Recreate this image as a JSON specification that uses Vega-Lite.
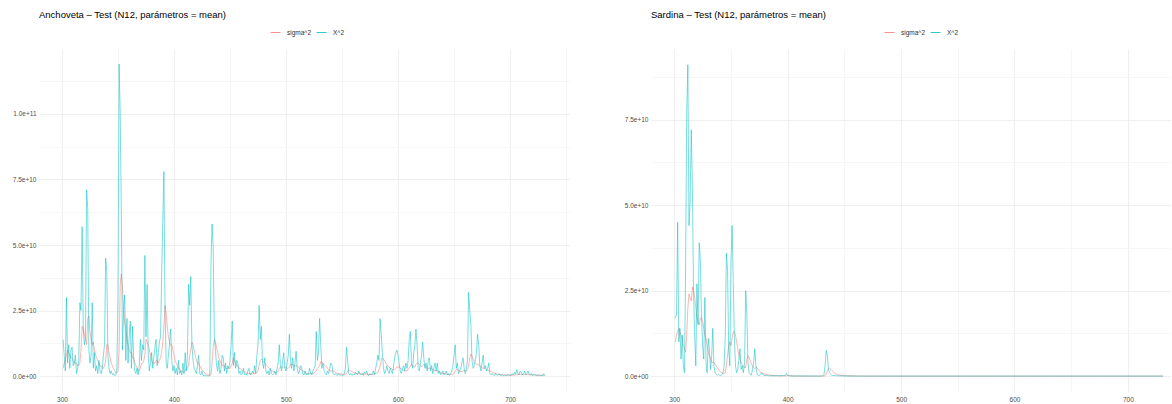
{
"$schema":"https://vega.github.io/schema/vega-lite/v6.json",
"padding":{"left":12,"top":9,"right":0,"bottom":0},
"background":"white",
"config":{
"view":{"stroke":null},
"font":"Liberation Sans",
"axis":{"domain":false,"ticks":false,"labelFont":"Liberation Sans","labelFontSize":6.5,"labelColor":"#4D4D4D","labelPadding":3,"title":null,"labelOverlap":false,"labelFlush":false,"gridWidth":0.8},
"title":{"fontSize":9.5,"fontWeight":"normal","color":"#000000","anchor":"start","frame":"group","offset":8,"font":"Liberation Sans"},
"legend":{"labelFont":"Liberation Sans","labelFontSize":6.5,"labelColor":"#333333","symbolType":"stroke","symbolSize":100,"symbolStrokeWidth":1,"symbolOpacity":0.8,"columnPadding":2,"labelOffset":6}
},
"spacing":54,
"resolve":{"scale":{"x":"independent","y":"independent","color":"independent"},"legend":{"color":"independent"}},
"datasets":{
"anch":[
{"d":301,"s":3e9,"x":14e9},{"d":302,"s":5e9,"x":8e9},{"d":303,"s":6e9,"x":2e9},{"d":304,"s":8e9,"x":30e9},{"d":305,"s":10e9,"x":5e9},{"d":306,"s":9e9,"x":12e9},{"d":307,"s":8e9,"x":3e9},{"d":308,"s":7e9,"x":10e9},{"d":309,"s":7e9,"x":11e9},{"d":310,"s":6e9,"x":4e9},
{"d":311,"s":5e9,"x":5e9},{"d":312,"s":5e9,"x":8e9},{"d":313,"s":5e9,"x":1e9},{"d":314,"s":4e9,"x":3e9},{"d":315,"s":4e9,"x":6e9},{"d":316,"s":5e9,"x":28e9},{"d":317,"s":10e9,"x":25e9},{"d":318,"s":19e9,"x":57e9},{"d":319,"s":18e9,"x":18e9},{"d":320,"s":16e9,"x":12e9},
{"d":321,"s":14e9,"x":15e9},{"d":322,"s":12e9,"x":71e9},{"d":323,"s":22e9,"x":64e9},{"d":324,"s":23e9,"x":10e9},{"d":325,"s":17e9,"x":5e9},{"d":326,"s":14e9,"x":8e9},{"d":327,"s":12e9,"x":28e9},{"d":328,"s":13e9,"x":3e9},{"d":329,"s":10e9,"x":9e9},{"d":330,"s":8e9,"x":2e9},
{"d":331,"s":7e9,"x":4e9},{"d":332,"s":6e9,"x":1e9},{"d":333,"s":5e9,"x":6e9},{"d":334,"s":4e9,"x":2e9},{"d":335,"s":4e9,"x":1e9},{"d":336,"s":3e9,"x":3e9},{"d":337,"s":3e9,"x":8e9},{"d":338,"s":4e9,"x":12e9},{"d":339,"s":6e9,"x":45e9},{"d":340,"s":12e9,"x":40e9},
{"d":341,"s":12e9,"x":8e9},{"d":342,"s":9e9,"x":3e9},{"d":343,"s":7e9,"x":1e9},{"d":344,"s":5e9,"x":2e9},{"d":345,"s":4e9,"x":0.5e9},{"d":346,"s":3e9,"x":1e9},{"d":347,"s":2e9,"x":0.3e9},{"d":348,"s":1.5e9,"x":0.5e9},{"d":349,"s":1.2e9,"x":3e9},{"d":350,"s":2e9,"x":30e9},
{"d":351,"s":10e9,"x":119e9},{"d":352,"s":35e9,"x":100e9},{"d":353,"s":39e9,"x":62e9},{"d":354,"s":34e9,"x":10e9},{"d":355,"s":26e9,"x":25e9},{"d":356,"s":20e9,"x":31e9},{"d":357,"s":18e9,"x":6e9},{"d":358,"s":14e9,"x":22e9},{"d":359,"s":12e9,"x":5e9},{"d":360,"s":10e9,"x":15e9},
{"d":361,"s":9e9,"x":21e9},{"d":362,"s":9e9,"x":3e9},{"d":363,"s":7e9,"x":19e9},{"d":364,"s":7e9,"x":7e9},{"d":365,"s":5e9,"x":2e9},{"d":366,"s":4e9,"x":1e9},{"d":367,"s":3e9,"x":3e9},{"d":368,"s":2e9,"x":0.5e9},{"d":369,"s":2e9,"x":4e9},{"d":370,"s":3e9,"x":14e9},
{"d":371,"s":5e9,"x":6e9},{"d":372,"s":5e9,"x":12e9},{"d":373,"s":6e9,"x":10e9},{"d":374,"s":8e9,"x":46e9},{"d":375,"s":14e9,"x":15e9},{"d":376,"s":13e9,"x":35e9},{"d":377,"s":12e9,"x":8e9},{"d":378,"s":10e9,"x":2e9},{"d":379,"s":8e9,"x":5e9},{"d":380,"s":6e9,"x":9e9},
{"d":381,"s":5e9,"x":3e9},{"d":382,"s":5e9,"x":7e9},{"d":383,"s":5e9,"x":11e9},{"d":384,"s":6e9,"x":14e9},{"d":385,"s":6e9,"x":4e9},{"d":386,"s":5e9,"x":9e9},{"d":387,"s":6e9,"x":13e9},{"d":388,"s":7e9,"x":15e9},{"d":389,"s":9e9,"x":39e9},{"d":390,"s":13e9,"x":59e9},
{"d":391,"s":19e9,"x":78e9},{"d":392,"s":27e9,"x":26e9},{"d":393,"s":24e9,"x":5e9},{"d":394,"s":19e9,"x":3e9},{"d":395,"s":15e9,"x":8e9},{"d":396,"s":13e9,"x":12e9},{"d":397,"s":12e9,"x":18e9},{"d":398,"s":12e9,"x":6e9},{"d":399,"s":10e9,"x":2e9},{"d":400,"s":8e9,"x":4e9},
{"d":401,"s":6e9,"x":1e9},{"d":402,"s":5e9,"x":3e9},{"d":403,"s":4e9,"x":0.5e9},{"d":404,"s":3e9,"x":6e9},{"d":405,"s":3e9,"x":1e9},{"d":406,"s":2e9,"x":2e9},{"d":407,"s":2e9,"x":0.5e9},{"d":408,"s":1.5e9,"x":5e9},{"d":409,"s":1.5e9,"x":1e9},{"d":410,"s":2e9,"x":9e9},
{"d":411,"s":3e9,"x":2e9},{"d":412,"s":3e9,"x":8e9},{"d":413,"s":4e9,"x":35e9},{"d":414,"s":8e9,"x":27e9},{"d":415,"s":10e9,"x":38e9},{"d":416,"s":13e9,"x":12e9},{"d":417,"s":12e9,"x":6e9},{"d":418,"s":10e9,"x":3e9},{"d":419,"s":8e9,"x":2e9},{"d":420,"s":6e9,"x":1e9},
{"d":421,"s":5e9,"x":4e9},{"d":422,"s":5e9,"x":8e9},{"d":423,"s":4e9,"x":1e9},{"d":424,"s":3e9,"x":0.5e9},{"d":425,"s":2.5e9,"x":2e9},{"d":426,"s":2e9,"x":0.3e9},{"d":427,"s":1.5e9,"x":0.2e9},{"d":428,"s":1e9,"x":0.3e9},{"d":429,"s":0.8e9,"x":0.1e9},{"d":430,"s":0.6e9,"x":0.2e9},
{"d":431,"s":0.5e9,"x":0.1e9},{"d":432,"s":0.4e9,"x":0.3e9},{"d":433,"s":0.5e9,"x":43e9},{"d":434,"s":5e9,"x":58e9},{"d":435,"s":11e9,"x":49e9},{"d":436,"s":14e9,"x":16e9},{"d":437,"s":13e9,"x":10e9},{"d":438,"s":11e9,"x":4e9},{"d":439,"s":9e9,"x":2e9},{"d":440,"s":7e9,"x":6e9},
{"d":441,"s":6e9,"x":1e9},{"d":442,"s":5e9,"x":3e9},{"d":443,"s":4e9,"x":8e9},{"d":444,"s":4e9,"x":7e9},{"d":445,"s":4e9,"x":2e9},{"d":446,"s":3e9,"x":5e9},{"d":447,"s":3e9,"x":1e9},{"d":448,"s":3e9,"x":4e9},{"d":449,"s":3e9,"x":3e9},{"d":450,"s":3e9,"x":6e9},
{"d":451,"s":4e9,"x":12e9},{"d":452,"s":5e9,"x":21e9},{"d":453,"s":7e9,"x":4e9},{"d":454,"s":6e9,"x":9e9},{"d":455,"s":5e9,"x":3e9},{"d":456,"s":4e9,"x":6e9},{"d":457,"s":4e9,"x":5e9},{"d":458,"s":3e9,"x":1e9},{"d":459,"s":3e9,"x":2e9},{"d":460,"s":2.5e9,"x":0.5e9},
{"d":461,"s":2e9,"x":1e9},{"d":462,"s":2e9,"x":3e9},{"d":463,"s":1.5e9,"x":0.5e9},{"d":464,"s":1.5e9,"x":1e9},{"d":465,"s":1.2e9,"x":0.3e9},{"d":466,"s":1e9,"x":2e9},{"d":467,"s":1e9,"x":3e9},{"d":468,"s":1e9,"x":0.5e9},{"d":469,"s":0.9e9,"x":1e9},{"d":470,"s":0.9e9,"x":2e9},
{"d":471,"s":1e9,"x":1e9},{"d":472,"s":1e9,"x":4e9},{"d":473,"s":1.2e9,"x":1e9},{"d":474,"s":1.5e9,"x":8e9},{"d":475,"s":2e9,"x":12e9},{"d":476,"s":4e9,"x":27e9},{"d":477,"s":6e9,"x":14e9},{"d":478,"s":6.5e9,"x":19e9},{"d":479,"s":6e9,"x":5e9},{"d":480,"s":5.5e9,"x":3e9},
{"d":481,"s":5e9,"x":7e9},{"d":482,"s":4.5e9,"x":2e9},{"d":483,"s":4e9,"x":1e9},{"d":484,"s":3.5e9,"x":2e9},{"d":485,"s":3e9,"x":0.5e9},{"d":486,"s":2.5e9,"x":3e9},{"d":487,"s":2e9,"x":1e9},{"d":488,"s":2e9,"x":0.5e9},{"d":489,"s":1.8e9,"x":1e9},{"d":490,"s":1.5e9,"x":2e9},
{"d":491,"s":1.4e9,"x":0.5e9},{"d":492,"s":1.5e9,"x":3e9},{"d":493,"s":2e9,"x":5e9},{"d":494,"s":3e9,"x":12e9},{"d":495,"s":3.5e9,"x":4e9},{"d":496,"s":3.5e9,"x":2e9},{"d":497,"s":3.5e9,"x":6e9},{"d":498,"s":3.5e9,"x":9e9},{"d":499,"s":3.5e9,"x":3e9},{"d":500,"s":3.2e9,"x":2e9},
{"d":501,"s":3e9,"x":5e9},{"d":502,"s":3e9,"x":8e9},{"d":503,"s":3.5e9,"x":16e9},{"d":504,"s":4.5e9,"x":6e9},{"d":505,"s":4.5e9,"x":3e9},{"d":506,"s":4.5e9,"x":7e9},{"d":507,"s":4e9,"x":2e9},{"d":508,"s":4e9,"x":5e9},{"d":509,"s":4e9,"x":9.5e9},{"d":510,"s":4e9,"x":3e9},
{"d":511,"s":3.5e9,"x":1e9},{"d":512,"s":3e9,"x":2e9},{"d":513,"s":2.5e9,"x":4e9},{"d":514,"s":2.2e9,"x":3e9},{"d":515,"s":2e9,"x":1e9},{"d":516,"s":1.8e9,"x":0.5e9},{"d":517,"s":1.5e9,"x":2e9},{"d":518,"s":1.2e9,"x":0.5e9},{"d":519,"s":1e9,"x":1e9},{"d":520,"s":1e9,"x":0.5e9},
{"d":521,"s":0.9e9,"x":3e9},{"d":522,"s":1e9,"x":1e9},{"d":523,"s":1e9,"x":0.5e9},{"d":524,"s":1e9,"x":2e9},{"d":525,"s":1.2e9,"x":3e9},{"d":526,"s":1.5e9,"x":4e9},{"d":527,"s":2e9,"x":17e9},{"d":528,"s":3e9,"x":6e9},{"d":529,"s":3.5e9,"x":9e9},{"d":530,"s":4e9,"x":22e9},
{"d":531,"s":5.5e9,"x":12e9},{"d":532,"s":5.5e9,"x":3e9},{"d":533,"s":5e9,"x":5e9},{"d":534,"s":4.5e9,"x":2e9},{"d":535,"s":4e9,"x":1e9},{"d":536,"s":3.5e9,"x":0.5e9},{"d":537,"s":3e9,"x":2e9},{"d":538,"s":2.5e9,"x":1e9},{"d":539,"s":2e9,"x":3e9},{"d":540,"s":2e9,"x":5e9},
{"d":541,"s":2e9,"x":4e9},{"d":542,"s":2e9,"x":1e9},{"d":543,"s":1.8e9,"x":0.5e9},{"d":544,"s":1.5e9,"x":1e9},{"d":545,"s":1.2e9,"x":0.5e9},{"d":546,"s":1e9,"x":0.3e9},{"d":547,"s":1e9,"x":1e9},{"d":548,"s":0.9e9,"x":0.5e9},{"d":549,"s":0.8e9,"x":0.3e9},{"d":550,"s":0.8e9,"x":0.5e9},
{"d":551,"s":0.7e9,"x":0.3e9},{"d":552,"s":0.7e9,"x":1e9},{"d":553,"s":0.8e9,"x":3e9},{"d":554,"s":1e9,"x":11e9},{"d":555,"s":2e9,"x":6e9},{"d":556,"s":2.5e9,"x":1e9},{"d":557,"s":2.2e9,"x":0.5e9},{"d":558,"s":2e9,"x":1e9},{"d":559,"s":1.8e9,"x":0.3e9},{"d":560,"s":1.5e9,"x":1e9},
{"d":561,"s":1.3e9,"x":0.5e9},{"d":562,"s":1.2e9,"x":1.5e9},{"d":563,"s":1e9,"x":1e9},{"d":564,"s":1e9,"x":0.5e9},{"d":565,"s":1e9,"x":2e9},{"d":566,"s":1e9,"x":1e9},{"d":567,"s":0.9e9,"x":0.5e9},{"d":568,"s":0.9e9,"x":1e9},{"d":569,"s":0.8e9,"x":0.3e9},{"d":570,"s":0.8e9,"x":1.5e9},
{"d":571,"s":0.8e9,"x":1e9},{"d":572,"s":0.8e9,"x":2e9},{"d":573,"s":0.8e9,"x":0.5e9},{"d":574,"s":0.7e9,"x":0.3e9},{"d":575,"s":0.7e9,"x":1e9},{"d":576,"s":0.7e9,"x":0.5e9},{"d":577,"s":0.7e9,"x":1e9},{"d":578,"s":0.8e9,"x":2e9},{"d":579,"s":1e9,"x":0.5e9},{"d":580,"s":1e9,"x":3e9},
{"d":581,"s":1.2e9,"x":5e9},{"d":582,"s":1.5e9,"x":8e9},{"d":583,"s":2.5e9,"x":6e9},{"d":584,"s":4e9,"x":22e9},{"d":585,"s":6e9,"x":16e9},{"d":586,"s":7e9,"x":9e9},{"d":587,"s":6.5e9,"x":3e9},{"d":588,"s":6e9,"x":1e9},{"d":589,"s":5e9,"x":2e9},{"d":590,"s":4.5e9,"x":4e9},
{"d":591,"s":4e9,"x":2e9},{"d":592,"s":3.5e9,"x":1e9},{"d":593,"s":3e9,"x":3e9},{"d":594,"s":3e9,"x":2e9},{"d":595,"s":2.5e9,"x":1e9},{"d":596,"s":2.5e9,"x":4e9},{"d":597,"s":2.5e9,"x":7e9},{"d":598,"s":3e9,"x":9e9},{"d":599,"s":3.5e9,"x":10e9},{"d":600,"s":3.5e9,"x":8e9},
{"d":601,"s":3.5e9,"x":5e9},{"d":602,"s":3e9,"x":2e9},{"d":603,"s":2.8e9,"x":1e9},{"d":604,"s":2.5e9,"x":3e9},{"d":605,"s":2.2e9,"x":4e9},{"d":606,"s":2e9,"x":2e9},{"d":607,"s":2e9,"x":5e9},{"d":608,"s":2.2e9,"x":3e9},{"d":609,"s":2.5e9,"x":6e9},{"d":610,"s":3e9,"x":14e9},
{"d":611,"s":4e9,"x":17e9},{"d":612,"s":4.5e9,"x":5e9},{"d":613,"s":4e9,"x":3e9},{"d":614,"s":3.5e9,"x":9e9},{"d":615,"s":3.5e9,"x":12e9},{"d":616,"s":4.5e9,"x":18e9},{"d":617,"s":5e9,"x":12e9},{"d":618,"s":5e9,"x":3e9},{"d":619,"s":4.5e9,"x":2e9},{"d":620,"s":4e9,"x":5e9},
{"d":621,"s":3.5e9,"x":8e9},{"d":622,"s":4e9,"x":13e9},{"d":623,"s":4.5e9,"x":7e9},{"d":624,"s":4e9,"x":3e9},{"d":625,"s":3.5e9,"x":5e9},{"d":626,"s":3e9,"x":2e9},{"d":627,"s":3e9,"x":6e9},{"d":628,"s":3e9,"x":7e9},{"d":629,"s":3e9,"x":2e9},{"d":630,"s":2.8e9,"x":4e9},
{"d":631,"s":2.5e9,"x":1e9},{"d":632,"s":2.3e9,"x":3e9},{"d":633,"s":2e9,"x":5e9},{"d":634,"s":2e9,"x":2e9},{"d":635,"s":2e9,"x":5e9},{"d":636,"s":1.8e9,"x":1e9},{"d":637,"s":1.5e9,"x":2e9},{"d":638,"s":1.3e9,"x":0.5e9},{"d":639,"s":1.2e9,"x":1e9},{"d":640,"s":1e9,"x":2e9},
{"d":641,"s":1e9,"x":0.5e9},{"d":642,"s":0.9e9,"x":1e9},{"d":643,"s":0.8e9,"x":2e9},{"d":644,"s":0.8e9,"x":0.5e9},{"d":645,"s":0.7e9,"x":1e9},{"d":646,"s":0.7e9,"x":0.3e9},{"d":647,"s":0.7e9,"x":1e9},{"d":648,"s":0.7e9,"x":2e9},{"d":649,"s":0.8e9,"x":4e9},{"d":650,"s":1e9,"x":8e9},
{"d":651,"s":2e9,"x":12e9},{"d":652,"s":2.5e9,"x":3e9},{"d":653,"s":2.5e9,"x":5e9},{"d":654,"s":2.2e9,"x":1e9},{"d":655,"s":2e9,"x":2e9},{"d":656,"s":1.8e9,"x":3e9},{"d":657,"s":1.8e9,"x":5e9},{"d":658,"s":2e9,"x":7e9},{"d":659,"s":2.2e9,"x":3e9},{"d":660,"s":2e9,"x":1e9},
{"d":661,"s":2e9,"x":3e9},{"d":662,"s":2.5e9,"x":6e9},{"d":663,"s":4e9,"x":32e9},{"d":664,"s":7e9,"x":25e9},{"d":665,"s":8.5e9,"x":20e9},{"d":666,"s":7.5e9,"x":6e9},{"d":667,"s":6.5e9,"x":3e9},{"d":668,"s":5.5e9,"x":4e9},{"d":669,"s":5e9,"x":6e9},{"d":670,"s":4.5e9,"x":9e9},
{"d":671,"s":4.5e9,"x":16e9},{"d":672,"s":4.5e9,"x":12e9},{"d":673,"s":4e9,"x":4e9},{"d":674,"s":3.5e9,"x":2e9},{"d":675,"s":3.2e9,"x":5e9},{"d":676,"s":3e9,"x":8e9},{"d":677,"s":3e9,"x":3e9},{"d":678,"s":2.8e9,"x":4e9},{"d":679,"s":2.5e9,"x":2e9},{"d":680,"s":2.3e9,"x":3e9},
{"d":681,"s":2.2e9,"x":5e9},{"d":682,"s":2e9,"x":1e9},{"d":683,"s":1.8e9,"x":0.5e9},{"d":684,"s":1.5e9,"x":1e9},{"d":685,"s":1.3e9,"x":0.5e9},{"d":686,"s":1.1e9,"x":0.3e9},{"d":687,"s":1e9,"x":1e9},{"d":688,"s":0.9e9,"x":0.5e9},{"d":689,"s":0.8e9,"x":0.3e9},{"d":690,"s":0.7e9,"x":1e9},
{"d":691,"s":0.6e9,"x":0.5e9},{"d":692,"s":0.6e9,"x":0.3e9},{"d":693,"s":0.5e9,"x":0.5e9},{"d":694,"s":0.5e9,"x":0.2e9},{"d":695,"s":0.5e9,"x":0.3e9},{"d":696,"s":0.4e9,"x":0.5e9},{"d":697,"s":0.4e9,"x":0.2e9},{"d":698,"s":0.4e9,"x":0.8e9},{"d":699,"s":0.4e9,"x":0.3e9},{"d":700,"s":0.4e9,"x":0.5e9},
{"d":701,"s":0.4e9,"x":0.3e9},{"d":702,"s":0.4e9,"x":1e9},{"d":703,"s":0.4e9,"x":0.5e9},{"d":704,"s":0.5e9,"x":1.5e9},{"d":705,"s":0.5e9,"x":0.8e9},{"d":706,"s":0.6e9,"x":2.5e9},{"d":707,"s":0.7e9,"x":1e9},{"d":708,"s":0.7e9,"x":0.5e9},{"d":709,"s":0.7e9,"x":2e9},{"d":710,"s":0.7e9,"x":1.5e9},
{"d":711,"s":0.7e9,"x":0.5e9},{"d":712,"s":0.6e9,"x":1e9},{"d":713,"s":0.6e9,"x":2e9},{"d":714,"s":0.6e9,"x":0.5e9},{"d":715,"s":0.6e9,"x":1e9},{"d":716,"s":0.6e9,"x":2e9},{"d":717,"s":0.6e9,"x":0.8e9},{"d":718,"s":0.5e9,"x":0.5e9},{"d":719,"s":0.5e9,"x":1e9},{"d":720,"s":0.5e9,"x":0.3e9},
{"d":721,"s":0.5e9,"x":0.5e9},{"d":722,"s":0.4e9,"x":0.8e9},{"d":723,"s":0.4e9,"x":0.3e9},{"d":724,"s":0.4e9,"x":0.5e9},{"d":725,"s":0.4e9,"x":0.3e9},{"d":726,"s":0.4e9,"x":0.5e9},{"d":727,"s":0.3e9,"x":0.2e9},{"d":728,"s":0.3e9,"x":0.4e9},{"d":729,"s":0.3e9,"x":0.2e9},{"d":730,"s":0.3e9,"x":1e9},
{"d":731,"s":0.3e9,"x":0.3e9}
],
"sard":[
{"d":301,"s":10e9,"x":17e9},{"d":302,"s":12e9,"x":18e9},{"d":303,"s":13e9,"x":45e9},{"d":304,"s":14e9,"x":10e9},{"d":305,"s":13e9,"x":14e9},{"d":306,"s":12e9,"x":5e9},{"d":307,"s":11e9,"x":12e9},{"d":308,"s":9e9,"x":3e9},{"d":309,"s":8e9,"x":1e9},{"d":310,"s":7e9,"x":31e9},
{"d":311,"s":12e9,"x":77e9},{"d":312,"s":20e9,"x":91e9},{"d":313,"s":24e9,"x":44e9},{"d":314,"s":23e9,"x":51e9},{"d":315,"s":22e9,"x":72e9},{"d":316,"s":26e9,"x":55e9},{"d":317,"s":25e9,"x":25e9},{"d":318,"s":23e9,"x":12e9},{"d":319,"s":20e9,"x":3e9},{"d":320,"s":17e9,"x":27e9},
{"d":321,"s":16e9,"x":15e9},{"d":322,"s":15e9,"x":39e9},{"d":323,"s":17e9,"x":34e9},{"d":324,"s":17e9,"x":18e9},{"d":325,"s":16e9,"x":9e9},{"d":326,"s":14e9,"x":5e9},{"d":327,"s":12e9,"x":23e9},{"d":328,"s":11e9,"x":4e9},{"d":329,"s":9e9,"x":1e9},{"d":330,"s":7e9,"x":11e9},
{"d":331,"s":6e9,"x":8e9},{"d":332,"s":5e9,"x":2e9},{"d":333,"s":4e9,"x":6e9},{"d":334,"s":4e9,"x":14e9},{"d":335,"s":4e9,"x":3e9},{"d":336,"s":3.5e9,"x":1e9},{"d":337,"s":3e9,"x":0.5e9},{"d":338,"s":2.5e9,"x":0.3e9},{"d":339,"s":2e9,"x":0.5e9},{"d":340,"s":1.5e9,"x":0.3e9},
{"d":341,"s":1.2e9,"x":0.2e9},{"d":342,"s":1e9,"x":0.5e9},{"d":343,"s":0.8e9,"x":1e9},{"d":344,"s":0.8e9,"x":3e9},{"d":345,"s":1e9,"x":12e9},{"d":346,"s":3e9,"x":36e9},{"d":347,"s":6e9,"x":31e9},{"d":348,"s":9e9,"x":8e9},{"d":349,"s":10e9,"x":3e9},{"d":350,"s":9e9,"x":33e9},
{"d":351,"s":11e9,"x":44e9},{"d":352,"s":13e9,"x":28e9},{"d":353,"s":13e9,"x":12e9},{"d":354,"s":12e9,"x":3e9},{"d":355,"s":10e9,"x":1e9},{"d":356,"s":8e9,"x":2e9},{"d":357,"s":6e9,"x":5e9},{"d":358,"s":5e9,"x":8e9},{"d":359,"s":4e9,"x":2e9},{"d":360,"s":3.5e9,"x":3e9},
{"d":361,"s":3e9,"x":1e9},{"d":362,"s":2.5e9,"x":4e9},{"d":363,"s":2.5e9,"x":25e9},{"d":364,"s":5e9,"x":18e9},{"d":365,"s":6e9,"x":4e9},{"d":366,"s":5.5e9,"x":1e9},{"d":367,"s":4.5e9,"x":0.5e9},{"d":368,"s":3.5e9,"x":0.3e9},{"d":369,"s":3e9,"x":2e9},{"d":370,"s":2.5e9,"x":4e9},
{"d":371,"s":2.2e9,"x":8e9},{"d":372,"s":2.5e9,"x":3e9},{"d":373,"s":2.5e9,"x":0.5e9},{"d":374,"s":2e9,"x":0.3e9},{"d":375,"s":1.5e9,"x":0.2e9},{"d":376,"s":1.2e9,"x":0.5e9},{"d":377,"s":1e9,"x":1e9},{"d":378,"s":0.9e9,"x":0.5e9},{"d":379,"s":0.8e9,"x":0.3e9},{"d":380,"s":0.6e9,"x":0.2e9},
{"d":381,"s":0.5e9,"x":0.2e9},{"d":382,"s":0.4e9,"x":0.3e9},{"d":383,"s":0.4e9,"x":0.1e9},{"d":384,"s":0.3e9,"x":0.2e9},{"d":385,"s":0.3e9,"x":0.1e9},{"d":386,"s":0.25e9,"x":0.1e9},{"d":387,"s":0.2e9,"x":0.2e9},{"d":388,"s":0.2e9,"x":0.1e9},{"d":389,"s":0.15e9,"x":0.1e9},{"d":390,"s":0.15e9,"x":0.2e9},
{"d":391,"s":0.12e9,"x":0.1e9},{"d":392,"s":0.12e9,"x":0.2e9},{"d":393,"s":0.12e9,"x":0.1e9},{"d":394,"s":0.1e9,"x":0.1e9},{"d":395,"s":0.1e9,"x":0.3e9},{"d":396,"s":0.1e9,"x":0.1e9},{"d":397,"s":0.1e9,"x":0.2e9},{"d":398,"s":0.12e9,"x":0.3e9},{"d":399,"s":0.12e9,"x":0.8e9},{"d":400,"s":0.2e9,"x":0.2e9},
{"d":401,"s":0.2e9,"x":0.1e9},{"d":402,"s":0.15e9,"x":0.05e9},{"d":403,"s":0.12e9,"x":0.1e9},{"d":404,"s":0.1e9,"x":0.05e9},{"d":405,"s":0.08e9,"x":0.05e9},{"d":406,"s":0.08e9,"x":0.1e9},{"d":407,"s":0.06e9,"x":0.05e9},{"d":408,"s":0.06e9,"x":0.05e9},{"d":409,"s":0.05e9,"x":0.05e9},{"d":410,"s":0.05e9,"x":0.1e9},
{"d":412,"s":0.05e9,"x":0.03e9},{"d":414,"s":0.05e9,"x":0.08e9},{"d":416,"s":0.04e9,"x":0.03e9},{"d":418,"s":0.04e9,"x":0.06e9},{"d":420,"s":0.04e9,"x":0.03e9},{"d":422,"s":0.04e9,"x":0.08e9},{"d":424,"s":0.04e9,"x":0.03e9},{"d":426,"s":0.04e9,"x":0.05e9},{"d":428,"s":0.04e9,"x":0.03e9},{"d":430,"s":0.04e9,"x":0.06e9},
{"d":431,"s":0.05e9,"x":0.1e9},{"d":432,"s":0.05e9,"x":0.5e9},{"d":433,"s":0.1e9,"x":3e9},{"d":434,"s":0.6e9,"x":7.5e9},{"d":435,"s":1.6e9,"x":6e9},{"d":436,"s":2.2e9,"x":2e9},{"d":437,"s":2.3e9,"x":1e9},{"d":438,"s":2e9,"x":0.5e9},{"d":439,"s":1.6e9,"x":0.3e9},{"d":440,"s":1.3e9,"x":0.2e9},
{"d":441,"s":1e9,"x":0.2e9},{"d":442,"s":0.8e9,"x":0.3e9},{"d":443,"s":0.6e9,"x":0.1e9},{"d":444,"s":0.5e9,"x":0.2e9},{"d":445,"s":0.4e9,"x":0.1e9},{"d":446,"s":0.3e9,"x":0.1e9},{"d":448,"s":0.25e9,"x":0.1e9},{"d":450,"s":0.2e9,"x":0.05e9},{"d":452,"s":0.15e9,"x":0.05e9},{"d":455,"s":0.1e9,"x":0.05e9},
{"d":460,"s":0.06e9,"x":0.03e9},{"d":465,"s":0.05e9,"x":0.03e9},{"d":470,"s":0.04e9,"x":0.02e9},{"d":475,"s":0.03e9,"x":0.03e9},{"d":480,"s":0.03e9,"x":0.02e9},{"d":485,"s":0.03e9,"x":0.03e9},{"d":490,"s":0.03e9,"x":0.02e9},{"d":495,"s":0.03e9,"x":0.03e9},{"d":500,"s":0.03e9,"x":0.02e9},{"d":505,"s":0.03e9,"x":0.03e9},
{"d":510,"s":0.03e9,"x":0.02e9},{"d":515,"s":0.03e9,"x":0.03e9},{"d":520,"s":0.03e9,"x":0.02e9},{"d":525,"s":0.03e9,"x":0.03e9},{"d":530,"s":0.03e9,"x":0.02e9},{"d":535,"s":0.03e9,"x":0.03e9},{"d":540,"s":0.03e9,"x":0.02e9},{"d":545,"s":0.03e9,"x":0.03e9},{"d":550,"s":0.03e9,"x":0.02e9},{"d":555,"s":0.03e9,"x":0.03e9},
{"d":560,"s":0.03e9,"x":0.02e9},{"d":565,"s":0.03e9,"x":0.03e9},{"d":570,"s":0.03e9,"x":0.02e9},{"d":575,"s":0.03e9,"x":0.03e9},{"d":580,"s":0.03e9,"x":0.02e9},{"d":585,"s":0.03e9,"x":0.03e9},{"d":590,"s":0.03e9,"x":0.02e9},{"d":595,"s":0.03e9,"x":0.03e9},{"d":600,"s":0.03e9,"x":0.02e9},{"d":605,"s":0.03e9,"x":0.03e9},
{"d":610,"s":0.03e9,"x":0.02e9},{"d":615,"s":0.03e9,"x":0.03e9},{"d":620,"s":0.03e9,"x":0.02e9},{"d":625,"s":0.03e9,"x":0.03e9},{"d":630,"s":0.03e9,"x":0.02e9},{"d":635,"s":0.03e9,"x":0.03e9},{"d":640,"s":0.03e9,"x":0.02e9},{"d":645,"s":0.03e9,"x":0.03e9},{"d":650,"s":0.03e9,"x":0.02e9},{"d":655,"s":0.03e9,"x":0.03e9},
{"d":660,"s":0.03e9,"x":0.02e9},{"d":665,"s":0.03e9,"x":0.03e9},{"d":670,"s":0.03e9,"x":0.02e9},{"d":675,"s":0.03e9,"x":0.03e9},{"d":680,"s":0.03e9,"x":0.02e9},{"d":685,"s":0.03e9,"x":0.03e9},{"d":690,"s":0.03e9,"x":0.02e9},{"d":695,"s":0.03e9,"x":0.03e9},{"d":700,"s":0.03e9,"x":0.02e9},{"d":705,"s":0.03e9,"x":0.03e9},
{"d":710,"s":0.03e9,"x":0.02e9},{"d":715,"s":0.03e9,"x":0.03e9},{"d":720,"s":0.03e9,"x":0.02e9},{"d":725,"s":0.03e9,"x":0.03e9},{"d":731,"s":0.03e9,"x":0.02e9}
]
},
"hconcat":[
{
"data":{"name":"anch"},
"transform":[{"fold":["s","x"],"as":["k","v"]}],
"title":{"text":"Anchoveta – Test (N12, parámetros = mean)"},
"width":531,"height":343,
"mark":{"type":"line","strokeWidth":0.75,"opacity":0.7,"clip":true},
"encoding":{
"x":{"field":"d","type":"quantitative","scale":{"domain":[279.5,753.5],"nice":false,"zero":false},
"axis":{"values":[300,350,400,450,500,550,600,650,700,750],"labelExpr":"datum.value % 100 == 0 ? datum.label : ''","labelPadding":4,
"gridColor":{"condition":{"test":"datum.value % 100 != 0","value":"#F4F4F4"},"value":"#EBEBEB"}}},
"y":{"field":"v","type":"quantitative","scale":{"domain":[-6.02e9,1.247e11],"nice":false,"zero":false},
"axis":{"values":[0,12500000000,25000000000,37500000000,50000000000,62500000000,75000000000,87500000000,100000000000,112500000000],
"labelExpr":"datum.value % 25000000000 != 0 ? '' : (datum.value == 0 ? '0.0e+00' : format(datum.value, '.1e'))",
"gridColor":{"condition":{"test":"datum.value % 25000000000 != 0","value":"#F4F4F4"},"value":"#EBEBEB"}}},
"color":{"field":"k","type":"nominal","scale":{"domain":["s","x"],"range":["#F8766D","#00BFC4"]},
"legend":{"orient":"none","legendX":231,"legendY":-22,"direction":"horizontal","title":null,"labelExpr":"datum.value == 's' ? 'sigma^2' : 'X^2'"}}
}
},
{
"data":{"name":"sard"},
"transform":[{"fold":["s","x"],"as":["k","v"]}],
"title":{"text":"Sardina – Test (N12, parámetros = mean)"},
"width":520,"height":343,
"mark":{"type":"line","strokeWidth":0.75,"opacity":0.7,"clip":true},
"encoding":{
"x":{"field":"d","type":"quantitative","scale":{"domain":[279.5,738],"nice":false,"zero":false},
"axis":{"values":[300,350,400,450,500,550,600,650,700],"labelExpr":"datum.value % 100 == 0 ? datum.label : ''","labelPadding":4,
"gridColor":{"condition":{"test":"datum.value % 100 != 0","value":"#F4F4F4"},"value":"#EBEBEB"}}},
"y":{"field":"v","type":"quantitative","scale":{"domain":[-4.62e9,9.56e10],"nice":false,"zero":false},
"axis":{"values":[0,12500000000,25000000000,37500000000,50000000000,62500000000,75000000000,87500000000],
"labelExpr":"datum.value % 25000000000 != 0 ? '' : (datum.value == 0 ? '0.0e+00' : format(datum.value, '.1e'))",
"gridColor":{"condition":{"test":"datum.value % 25000000000 != 0","value":"#F4F4F4"},"value":"#EBEBEB"}}},
"color":{"field":"k","type":"nominal","scale":{"domain":["s","x"],"range":["#F8766D","#00BFC4"]},
"legend":{"orient":"none","legendX":233,"legendY":-22,"direction":"horizontal","title":null,"labelExpr":"datum.value == 's' ? 'sigma^2' : 'X^2'"}}
}
}
]
}
